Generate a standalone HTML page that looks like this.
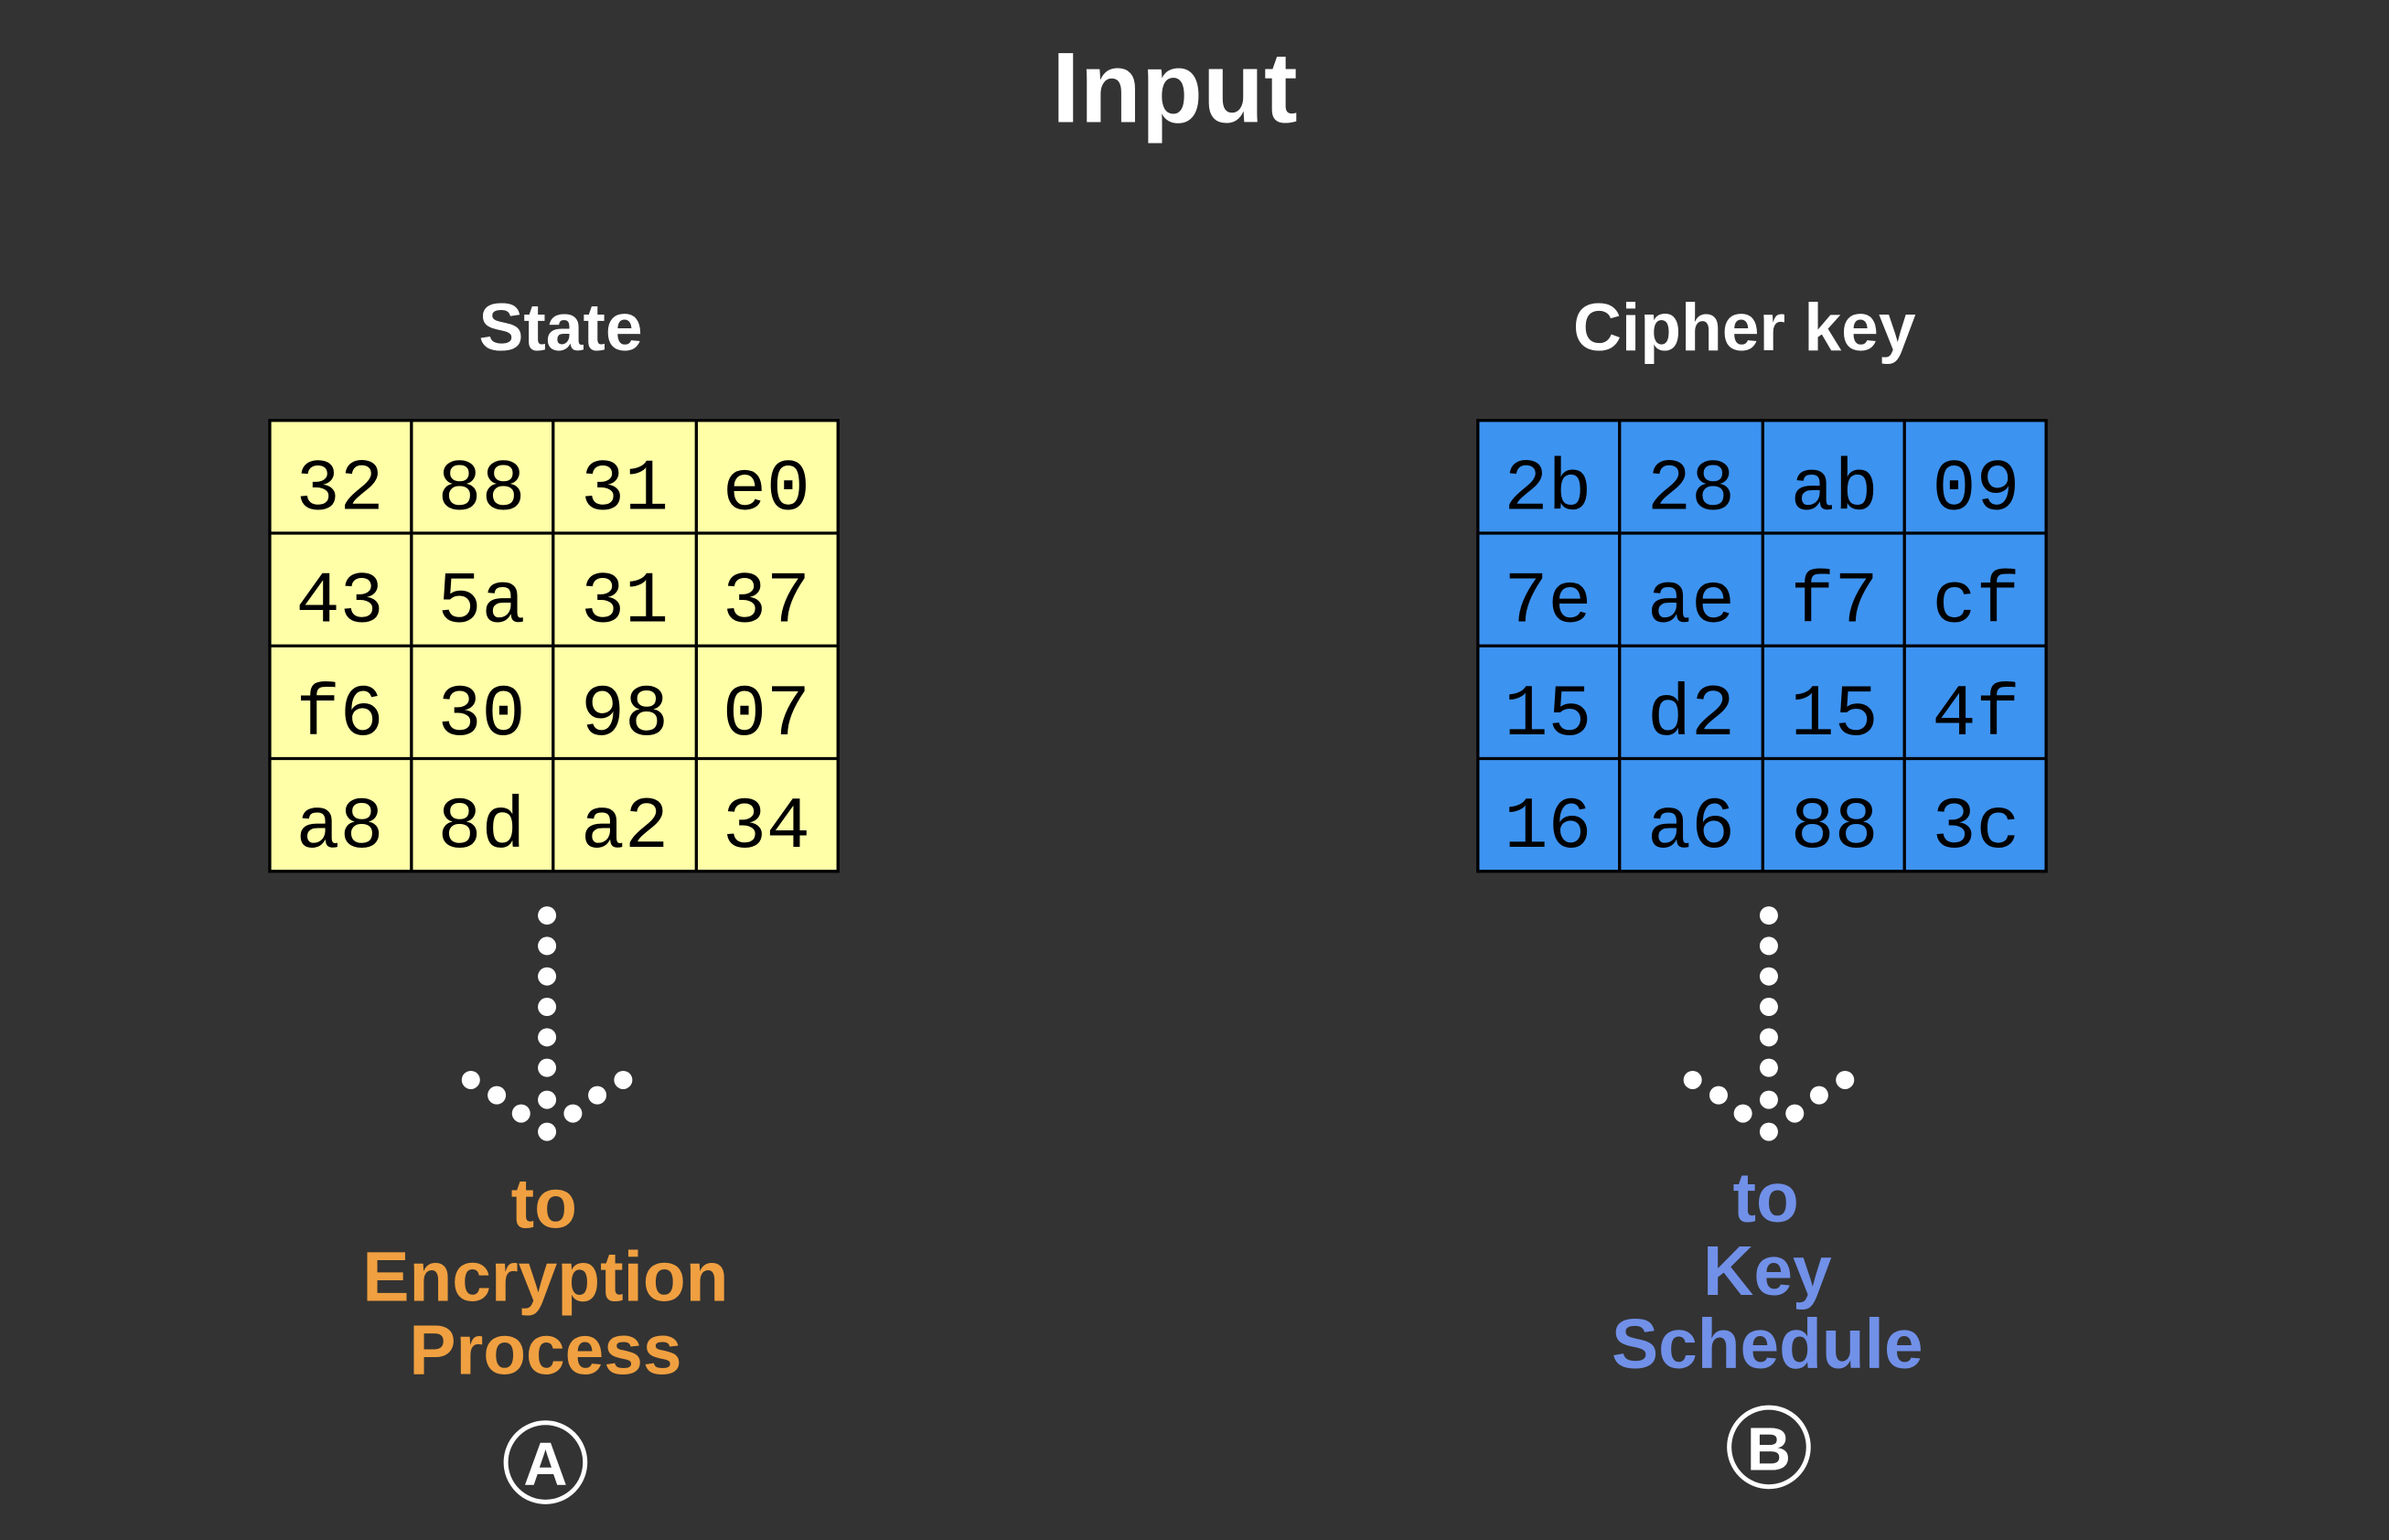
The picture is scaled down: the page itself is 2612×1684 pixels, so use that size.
<!DOCTYPE html>
<html><head><meta charset="utf-8"><style>
html,body{margin:0;padding:0;background:#333333;}
svg{display:block;}
</style></head><body>
<svg width="2612" height="1684" viewBox="0 0 1568 1011" xmlns="http://www.w3.org/2000/svg">
<rect width="1568" height="1011" fill="#333333"/>
<text x="771" y="80" font-family="Liberation Sans, sans-serif" font-weight="bold" font-size="66" fill="#fff" text-anchor="middle">Input</text>
<text x="368" y="230" font-family="Liberation Sans, sans-serif" font-weight="bold" font-size="44" fill="#fff" text-anchor="middle">State</text>
<text x="1145" y="230" font-family="Liberation Sans, sans-serif" font-weight="bold" font-size="44" fill="#fff" text-anchor="middle">Cipher key</text>
<g stroke="#000" stroke-width="2">
<rect x="177" y="276" width="373" height="296" fill="#ffffa8"/>
<line x1="270" y1="276" x2="270" y2="572"/><line x1="363" y1="276" x2="363" y2="572"/><line x1="457" y1="276" x2="457" y2="572"/>
<line x1="177" y1="350" x2="550" y2="350"/><line x1="177" y1="424" x2="550" y2="424"/><line x1="177" y1="498" x2="550" y2="498"/>
<rect x="970" y="276" width="373" height="296" fill="#3d93f0"/>
<line x1="1063" y1="276" x2="1063" y2="572"/><line x1="1157" y1="276" x2="1157" y2="572"/><line x1="1250" y1="276" x2="1250" y2="572"/>
<line x1="970" y1="350" x2="1343" y2="350"/><line x1="970" y1="424" x2="1343" y2="424"/><line x1="970" y1="498" x2="1343" y2="498"/>
</g>
<g font-family="Liberation Mono, monospace" font-size="48" fill="#000" text-anchor="middle">
<text x="223" y="334">32</text><text x="316" y="334">88</text><text x="410" y="334">31</text><text x="503" y="334">e0</text>
<text x="223" y="408">43</text><text x="316" y="408">5a</text><text x="410" y="408">31</text><text x="503" y="408">37</text>
<text x="223" y="482">f6</text><text x="316" y="482">30</text><text x="410" y="482">98</text><text x="503" y="482">07</text>
<text x="223" y="556">a8</text><text x="316" y="556">8d</text><text x="410" y="556">a2</text><text x="503" y="556">34</text>
<text x="1016" y="334">2b</text><text x="1110" y="334">28</text><text x="1204" y="334">ab</text><text x="1297" y="334">09</text>
<text x="1016" y="408">7e</text><text x="1110" y="408">ae</text><text x="1204" y="408">f7</text><text x="1297" y="408">cf</text>
<text x="1016" y="482">15</text><text x="1110" y="482">d2</text><text x="1204" y="482">15</text><text x="1297" y="482">4f</text>
<text x="1016" y="556">16</text><text x="1110" y="556">a6</text><text x="1204" y="556">88</text><text x="1297" y="556">3c</text>
</g>
<defs>
<g id="arr" fill="#fff">
<circle cx="0" cy="601" r="6"/><circle cx="0" cy="621" r="6"/><circle cx="0" cy="641" r="6"/><circle cx="0" cy="661" r="6"/>
<circle cx="0" cy="681" r="6"/><circle cx="0" cy="701" r="6"/><circle cx="0" cy="722" r="6"/><circle cx="0" cy="743" r="6"/>
<circle cx="-50" cy="709" r="6"/><circle cx="-33" cy="719" r="6"/><circle cx="-17" cy="731" r="6"/>
<circle cx="50" cy="709" r="6"/><circle cx="33" cy="719" r="6"/><circle cx="17" cy="731" r="6"/>
</g>
</defs>
<use href="#arr" x="359"/>
<use href="#arr" x="1161"/>
<g font-family="Liberation Sans, sans-serif" font-weight="bold" font-size="46" text-anchor="middle">
<text x="357" y="806" fill="#f0a040">to</text>
<text x="358" y="854" fill="#f0a040">Encryption</text>
<text x="358" y="902" fill="#f0a040">Process</text>
<text x="1159" y="802" fill="#7190e8">to</text>
<text x="1160" y="850" fill="#7190e8">Key</text>
<text x="1160" y="898" fill="#7190e8">Schedule</text>
</g>
<circle cx="358" cy="960" r="26" fill="none" stroke="#fff" stroke-width="3"/>
<text x="358" y="975" font-family="Liberation Sans, sans-serif" font-weight="bold" font-size="40" fill="#fff" text-anchor="middle">A</text>
<circle cx="1161" cy="950" r="26" fill="none" stroke="#fff" stroke-width="3"/>
<text x="1161" y="965" font-family="Liberation Sans, sans-serif" font-weight="bold" font-size="40" fill="#fff" text-anchor="middle">B</text>
</svg>
</body></html>
